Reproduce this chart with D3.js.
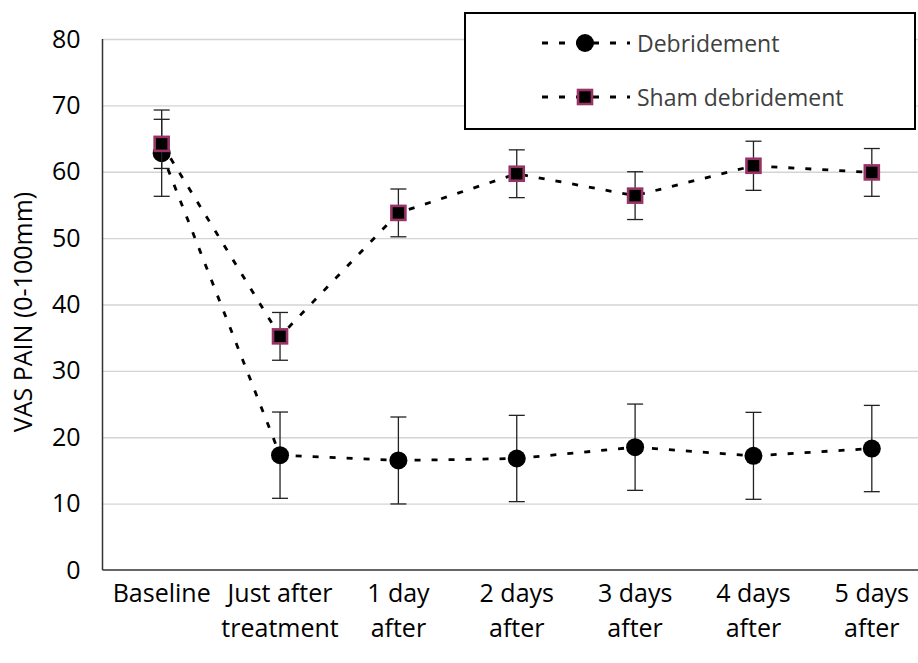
<!DOCTYPE html>
<html>
<head>
<meta charset="utf-8">
<script src="https://cdn.jsdelivr.net/npm/d3@7"></script>
<style>
  body { margin: 0; background: #fff; }
  text { font-family: "Open Sans", sans-serif; }
</style>
</head>
<body>
<div id="chart"></div>
<script>
// data
var categories = ["Baseline", "Just after|treatment", "1 day|after", "2 days|after", "3 days|after", "4 days|after", "5 days|after"];
var debMean = [62.8, 17.3, 16.5, 16.8, 18.5, 17.2, 18.3];
var debErr  = [6.5, 6.5, 6.55, 6.5, 6.5, 6.55, 6.5];
var shamMean = [64.2, 35.2, 53.8, 59.7, 56.4, 60.9, 59.9];
var shamErr  = [3.7, 3.6, 3.6, 3.6, 3.6, 3.7, 3.6];
var yTicks = [0, 10, 20, 30, 40, 50, 60, 70, 80];
var seriesNames = ["Debridement", "Sham debridement"];

var width = 918, height = 663;
var plotLeft = 102.5, plotTop = 39, plotBottom = 570, plotRight = 931;

var svg = d3.select("#chart").append("svg")
    .attr("width", width)
    .attr("height", height);

var x = d3.scaleBand().domain(categories).range([plotLeft, plotRight]).padding(0);
var y = d3.scaleLinear().domain([0, 80]).range([plotBottom, plotTop]);

// gridlines
svg.append("g")
    .attr("transform", "translate(" + plotLeft + ",0)")
    .call(d3.axisLeft(y).tickValues(yTicks.slice(1)).tickSize(-(plotRight - plotLeft)).tickFormat(""))
    .call(function (g) { g.select(".domain").remove(); })
    .selectAll("line")
    .attr("stroke", "#d4d4d4")
    .attr("stroke-width", 1.3);

// y tick labels
svg.append("g")
    .attr("transform", "translate(" + plotLeft + ",0)")
    .call(d3.axisLeft(y).tickValues(yTicks).tickSize(0).tickPadding(22))
    .call(function (g) { g.select(".domain").remove(); })
    .selectAll("text")
    .style("font-size", "25px")
    .attr("fill", "#000");

// x labels (two lines)
var xAxis = svg.append("g")
    .attr("transform", "translate(0," + plotBottom + ")")
    .call(d3.axisBottom(x).tickSize(0).tickFormat(""));
xAxis.select(".domain").remove();
xAxis.selectAll(".tick").each(function (d) {
    var t = d3.select(this).append("text")
        .attr("fill", "#000")
        .attr("text-anchor", "middle")
        .style("font-size", "25px");
    d.split("|").forEach(function (s, i) {
        t.append("tspan").attr("x", 0).attr("y", 32 + i * 35).text(s);
    });
});

// axis lines
svg.append("line")
    .attr("x1", plotLeft).attr("x2", plotLeft).attr("y1", plotTop).attr("y2", plotBottom)
    .attr("stroke", "#333").attr("stroke-width", 1.5);
svg.append("line")
    .attr("x1", plotLeft).attr("x2", width).attr("y1", plotBottom).attr("y2", plotBottom)
    .attr("stroke", "#333").attr("stroke-width", 1.5);

var line = d3.line()
    .x(function (d) { return x(d.cat) + x.bandwidth() / 2; })
    .y(function (d) { return y(d.v); });

function drawSeries(means, errs, marker) {
    var pts = categories.map(function (c, i) { return {cat: c, v: means[i], e: errs[i]}; });
    var g = svg.append("g");

    // error bars
    var eb = g.selectAll(".eb").data(pts).enter().append("g")
        .attr("transform", function (d) { return "translate(" + (x(d.cat) + x.bandwidth() / 2) + ",0)"; })
        .attr("stroke", "#222").attr("stroke-width", 1.3);
    eb.append("line")
        .attr("y1", function (d) { return y(d.v - d.e); })
        .attr("y2", function (d) { return y(d.v + d.e); });
    eb.append("line").attr("x1", -8).attr("x2", 8)
        .attr("y1", function (d) { return y(d.v + d.e); })
        .attr("y2", function (d) { return y(d.v + d.e); });
    eb.append("line").attr("x1", -8).attr("x2", 8)
        .attr("y1", function (d) { return y(d.v - d.e); })
        .attr("y2", function (d) { return y(d.v - d.e); });

    g.append("path")
        .datum(pts)
        .attr("d", line)
        .attr("fill", "none")
        .attr("stroke", "#000")
        .attr("stroke-width", 2.8)
        .attr("stroke-dasharray", "6,11");

    var m = g.selectAll(".m").data(pts).enter();
    if (marker == "circle") {
        m.append("circle")
            .attr("cx", function (d) { return x(d.cat) + x.bandwidth() / 2; })
            .attr("cy", function (d) { return y(d.v); })
            .attr("r", 9)
            .attr("fill", "#000");
    } else {
        m.append("rect")
            .attr("x", function (d) { return x(d.cat) + x.bandwidth() / 2 - 7; })
            .attr("y", function (d) { return y(d.v) - 7; })
            .attr("width", 14).attr("height", 14)
            .attr("fill", "#000")
            .attr("stroke", "#993366")
            .attr("stroke-width", 2.6);
    }
}

drawSeries(debMean, debErr, "circle");
drawSeries(shamMean, shamErr, "square");

// legend
var lg = svg.append("g");
lg.append("rect")
    .attr("x", 465).attr("y", 13).attr("width", 450).attr("height", 116)
    .attr("fill", "#fff").attr("stroke", "#000").attr("stroke-width", 2);
seriesNames.forEach(function (name, i) {
    var cy = 43 + i * 54;
    lg.append("line")
        .attr("x1", 542).attr("x2", 630).attr("y1", cy).attr("y2", cy)
        .attr("stroke", "#000").attr("stroke-width", 2.8)
        .attr("stroke-dasharray", "6,11");
    if (i == 0) {
        lg.append("circle").attr("cx", 585).attr("cy", cy).attr("r", 9).attr("fill", "#000");
    } else {
        lg.append("rect").attr("x", 578).attr("y", cy - 7).attr("width", 14).attr("height", 14)
            .attr("fill", "#000").attr("stroke", "#993366").attr("stroke-width", 2.6);
    }
    lg.append("text")
        .attr("x", 637).attr("y", cy)
        .attr("dominant-baseline", "central")
        .attr("fill", "#404040")
        .style("font-size", "23px")
        .text(name);
});

// y axis title
svg.append("text")
    .attr("transform", "translate(22,312) rotate(-90)")
    .attr("text-anchor", "middle")
    .attr("dominant-baseline", "central")
    .attr("fill", "#000")
    .style("font-size", "25px")
    .text("VAS PAIN (0-100mm)");
</script>
</body>
</html>
